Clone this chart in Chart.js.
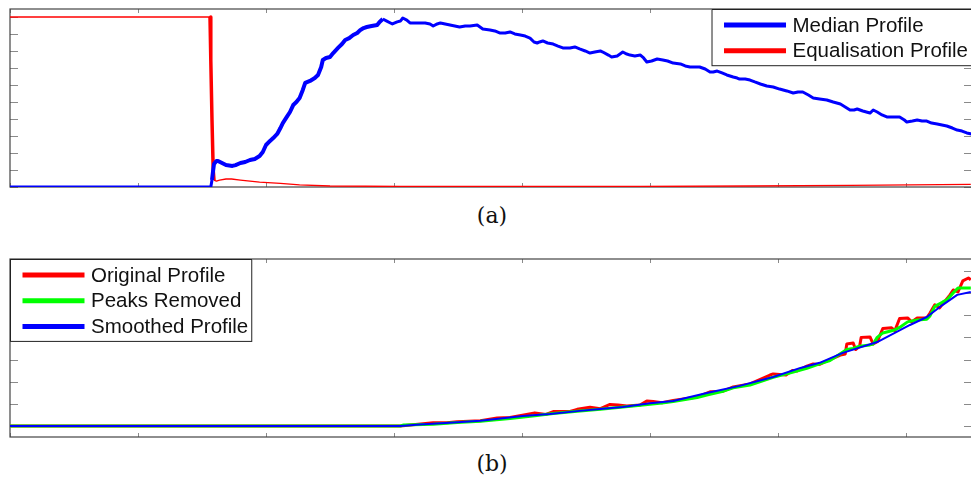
<!DOCTYPE html>
<html lang="en">
<head>
    <meta charset="UTF-8" />
    <title>Profiles</title>
    <script src="https://cdn.jsdelivr.net/npm/chart.js"></script>
    <style>
        body {
            margin: 0;
            width: 971px;
            height: 478px;
            overflow: hidden;
            background: #fff;
            position: relative;
        }
        .panel {
            position: absolute;
            left: 0;
            width: 973px;
            height: 195px;
        }
        #panelA { top: 0; }
        #panelB { top: 250px; }
        .caption {
            position: absolute;
            left: 442px;
            width: 100px;
            text-align: center;
            font-family: 'DejaVu Serif', serif;
            font-size: 22px;
            line-height: 26px;
            color: #111;
        }
    </style>
</head>
<body>
    <div class="panel" id="panelA"><canvas id="chartA"></canvas></div>
    <div class="caption" style="top: 203px;">(a)</div>

    <div class="panel" id="panelB"><canvas id="chartB"></canvas></div>
    <div class="caption" style="top: 451px;">(b)</div>

    <script>
        // (a) median intensity profile and the equalisation profile derived from it
        const medianX = [0, 251, 252.5, 254, 255, 258, 260, 265, 270, 278, 282, 288, 294, 300, 306, 312, 316, 320, 325, 329,
            334, 338, 341, 346, 350, 354, 358, 362, 366, 369, 375, 381, 385, 389, 391, 395, 400, 404, 410, 415,
            419, 424, 429, 434, 438, 442, 446, 452, 459, 462, 466, 471, 478, 484, 488, 491, 496, 500, 506, 512,
            519, 525, 529, 534, 538, 544, 550, 556, 562, 569, 575, 584, 591, 600, 606, 612, 619, 625, 631, 638,
            644, 650, 655, 659, 662, 666, 672, 679, 685, 691, 700, 706, 712, 719, 725, 731, 738, 741, 748, 752,
            759, 766, 771, 775, 781, 788, 792, 796, 802, 809, 816, 822, 829, 838, 844, 850, 862, 869, 875, 879,
            884, 890, 896, 904, 909, 912, 919, 925, 931, 938, 946, 954, 962, 971, 979, 985, 991, 998, 1004, 1012,
            1021, 1029, 1038, 1044, 1050, 1055, 1059, 1066, 1075, 1079, 1084, 1090, 1096, 1104, 1112, 1118, 1121, 1128, 1134, 1140,
            1146, 1152, 1159, 1165, 1171, 1178, 1184, 1190, 1196, 1202];
        const medianY = [0, 0, 0.041, 0.1, 0.135, 0.153, 0.153, 0.141, 0.129, 0.124, 0.129, 0.141, 0.147, 0.159, 0.165, 0.182, 0.206, 0.247, 0.271, 0.288,
            0.312, 0.347, 0.376, 0.412, 0.441, 0.482, 0.5, 0.524, 0.571, 0.612, 0.624, 0.641, 0.659, 0.706, 0.747, 0.759, 0.765, 0.788, 0.818, 0.841,
            0.865, 0.876, 0.894, 0.906, 0.924, 0.935, 0.941, 0.947, 0.953, 0.971, 0.988, 0.976, 0.959, 0.971, 0.976, 0.994, 0.982, 0.965, 0.965, 0.965,
            0.965, 0.959, 0.947, 0.959, 0.965, 0.959, 0.953, 0.947, 0.941, 0.947, 0.947, 0.953, 0.929, 0.924, 0.918, 0.906, 0.906, 0.912, 0.9, 0.894,
            0.888, 0.876, 0.853, 0.847, 0.853, 0.859, 0.847, 0.841, 0.829, 0.818, 0.818, 0.824, 0.812, 0.8, 0.788, 0.794, 0.8, 0.794, 0.776, 0.765,
            0.771, 0.794, 0.782, 0.776, 0.771, 0.776, 0.759, 0.735, 0.741, 0.753, 0.747, 0.741, 0.729, 0.724, 0.712, 0.706, 0.706, 0.694, 0.676, 0.676,
            0.682, 0.671, 0.659, 0.647, 0.641, 0.635, 0.635, 0.629, 0.618, 0.606, 0.594, 0.588, 0.576, 0.565, 0.553, 0.559, 0.559, 0.541, 0.524, 0.518,
            0.512, 0.5, 0.488, 0.471, 0.453, 0.453, 0.459, 0.447, 0.435, 0.453, 0.441, 0.424, 0.412, 0.412, 0.412, 0.394, 0.382, 0.388, 0.394, 0.388,
            0.388, 0.376, 0.371, 0.365, 0.359, 0.347, 0.335, 0.329, 0.318, 0.312];

        const equalX = [0, 250, 251, 252.5, 254, 255, 258, 262, 270, 277, 288, 312, 338, 362, 400, 488, 788, 925, 1050, 1201];
        const equalY = [1, 1, 0.747, 0.394, 0.1, 0.041, 0.035, 0.041, 0.047, 0.047, 0.041, 0.029, 0.021, 0.012, 0.006, 0.003, 0.003, 0.006, 0.01, 0.015];

        // (b) original profile, profile with peaks removed, and smoothed result
        const originalX = [0, 488, 529, 546, 559, 588, 609, 625, 656, 670, 679, 700, 709, 725, 738, 750, 760, 771, 788, 796,
            804, 815, 829, 859, 875, 890, 904, 925, 950, 954, 970, 978, 984, 996, 1004, 1012, 1025, 1038, 1044, 1046,
            1054, 1057, 1062, 1064, 1075, 1079, 1084, 1091, 1102, 1106, 1112, 1122, 1127, 1134, 1146, 1150, 1156, 1162, 1175, 1179,
            1185, 1191, 1198, 1201];
        const originalY = [0, 0, 0.14, 0.14, 0.19, 0.23, 0.36, 0.38, 0.59, 0.52, 0.65, 0.65, 0.75, 0.84, 0.78, 0.97, 0.95, 0.9, 0.95, 1.13,
            1.1, 1.05, 1.15, 1.31, 1.54, 1.55, 1.76, 1.9, 2.3, 2.35, 2.3, 2.5, 2.48, 2.7, 2.8, 2.78, 3.0, 3.2, 3.25, 3.7,
            3.75, 3.45, 3.6, 4.0, 4.02, 3.7, 3.8, 4.4, 4.43, 4.3, 4.85, 4.88, 4.7, 4.88, 4.88, 5.1, 5.47, 5.33, 5.92, 6.14,
            6.05, 6.55, 6.68, 6.6];

        const peaksX = [0, 488, 492, 529, 559, 588, 625, 656, 679, 709, 738, 760, 788, 815, 829, 859, 871, 890, 904, 925,
            954, 978, 996, 1012, 1025, 1046, 1054, 1062, 1075, 1079, 1084, 1091, 1102, 1106, 1112, 1122, 1134, 1146, 1150, 1156,
            1166, 1171, 1179, 1185, 1201];
        const peaksY = [0, 0, 0.04, 0.08, 0.15, 0.21, 0.33, 0.46, 0.56, 0.66, 0.75, 0.83, 0.93, 1.03, 1.1, 1.28, 1.4, 1.55, 1.72, 1.85,
            2.2, 2.42, 2.6, 2.8, 2.95, 3.45, 3.5, 3.6, 3.66, 3.7, 4.0, 4.2, 4.3, 4.34, 4.45, 4.7, 4.79, 4.82, 4.97, 5.4,
            5.6, 5.69, 6.01, 6.23, 6.23];

        const smoothX = [0, 488, 512, 550, 588, 641, 675, 712, 738, 766, 800, 829, 871, 912, 954, 988, 1012, 1041, 1084, 1125,
            1146, 1166, 1184, 1201];
        const smoothY = [0, 0, 0.07, 0.14, 0.23, 0.45, 0.54, 0.68, 0.77, 0.86, 1.02, 1.13, 1.49, 1.81, 2.21, 2.62, 2.85, 3.3, 3.79, 4.56,
            4.92, 5.47, 5.92, 6.05];

        const xMax = 1202.5;
        const xStep = 160;

        function points(xs, ys) {
            return xs.map((x, i) => ({ x: x, y: ys[i] }));
        }

        // box around the axes with MATLAB style inward ticks on all four sides
        const axesFrame = {
            id: 'axesFrame',
            beforeDatasetsDraw(chart) {
                const { ctx, chartArea: a, scales } = chart;
                ctx.save();
                ctx.strokeStyle = '#8a8a8a';
                ctx.lineWidth = 1;
                ctx.beginPath();
                scales.x.ticks.forEach(t => {
                    const px = Math.round(scales.x.getPixelForValue(t.value)) + 0.5;
                    ctx.moveTo(px, a.top); ctx.lineTo(px, a.top + 4);
                    ctx.moveTo(px, a.bottom); ctx.lineTo(px, a.bottom - 4);
                });
                scales.y.ticks.forEach(t => {
                    const py = Math.round(scales.y.getPixelForValue(t.value)) + 0.5;
                    ctx.moveTo(a.left, py); ctx.lineTo(a.left + 8, py);
                    ctx.moveTo(a.right, py); ctx.lineTo(a.right - 8, py);
                });
                ctx.stroke();
                ctx.strokeStyle = '#444';
                ctx.lineWidth = 1.2;
                ctx.strokeRect(a.left, a.top, a.right - a.left, a.bottom - a.top);
                ctx.restore();
            }
        };

        // legend drawn as a boxed key inside the axes
        const boxLegend = {
            id: 'boxLegend',
            afterDatasetsDraw(chart, args, opts) {
                const { ctx, chartArea: a } = chart;
                const items = chart.data.datasets;
                ctx.save();
                ctx.font = opts.font;
                const textW = Math.max(...items.map(d => ctx.measureText(d.label).width));
                const w = opts.padLeft + opts.lineLength + opts.gap + textW + opts.padRight;
                const h = opts.firstRow + (items.length - 1) * opts.rowHeight + opts.lastPad;
                const left = opts.align === 'right' ? a.right - w : a.left;
                const top = a.top;
                ctx.fillStyle = '#fff';
                ctx.fillRect(left, top, w, h);
                ctx.strokeStyle = '#222';
                ctx.lineWidth = 1;
                ctx.strokeRect(left + 0.5, top + 0.5, w - 1, h - 1);
                items.forEach((d, i) => {
                    const y = top + opts.firstRow + i * opts.rowHeight;
                    ctx.strokeStyle = d.borderColor;
                    ctx.lineWidth = 5;
                    ctx.beginPath();
                    ctx.moveTo(left + opts.padLeft, y);
                    ctx.lineTo(left + opts.padLeft + opts.lineLength, y);
                    ctx.stroke();
                    ctx.fillStyle = '#111';
                    ctx.textBaseline = 'middle';
                    ctx.fillText(d.label, left + opts.padLeft + opts.lineLength + opts.gap, y + 1);
                });
                ctx.restore();
            }
        };

        function baseOptions(yMin, yMax, yStep, align) {
            return {
                responsive: true,
                maintainAspectRatio: false,
                animation: false,
                layout: { padding: { left: 10, top: 9, right: 1, bottom: 8 } },
                elements: { point: { radius: 0 }, line: { tension: 0, borderJoinStyle: 'round' } },
                scales: {
                    x: {
                        type: 'linear', min: 0, max: xMax,
                        ticks: { display: false, stepSize: xStep, includeBounds: false },
                        grid: { display: false, drawTicks: false },
                        border: { display: false }
                    },
                    y: {
                        type: 'linear', min: yMin, max: yMax,
                        ticks: { display: false, stepSize: yStep, includeBounds: false },
                        grid: { display: false, drawTicks: false },
                        border: { display: false }
                    }
                },
                plugins: {
                    legend: { display: false },
                    tooltip: { enabled: false },
                    boxLegend: {
                        align: align,
                        font: '20.5px "Liberation Sans", Arial, sans-serif',
                        padLeft: 12.5, lineLength: 62, gap: 6.5, padRight: 4,
                        firstRow: 16, rowHeight: 25.7, lastPad: 15.5
                    }
                }
            };
        }

        new Chart(document.getElementById('chartA'), {
            type: 'line',
            data: {
                datasets: [{
                    label: 'Median Profile',
                    data: points(medianX, medianY),
                    borderColor: '#0000ff',
                    borderWidth: 3,
                    segment: {
                        // the steep climb renders heavier than the slow decline
                        borderWidth: c => (c.p0.parsed.x >= 252 && c.p1.parsed.x <= 470) ? 4 : 3
                    }
                }, {
                    label: 'Equalisation Profile',
                    data: points(equalX, equalY),
                    borderColor: '#ff0000',
                    borderWidth: 1.3,
                    segment: {
                        // the sharp drop reads heavier than the flat parts
                        borderWidth: c => (c.p0.parsed.x >= 250 && c.p1.parsed.x <= 255) ? 3.5 : 1.3
                    }
                }]
            },
            options: baseOptions(0, 1.047, 0.1, 'right'),
            plugins: [axesFrame, boxLegend]
        });

        new Chart(document.getElementById('chartB'), {
            type: 'line',
            data: {
                datasets: [{
                    label: 'Original Profile',
                    data: points(originalX, originalY),
                    borderColor: '#ff0000',
                    borderWidth: 3,
                    order: 3
                }, {
                    label: 'Peaks Removed',
                    data: points(peaksX, peaksY),
                    borderColor: '#00ff00',
                    borderWidth: 3,
                    order: 2
                }, {
                    label: 'Smoothed Profile',
                    data: points(smoothX, smoothY),
                    borderColor: '#0000ff',
                    borderWidth: 2,
                    order: 1
                }]
            },
            options: baseOptions(-0.5, 7.54, 1, 'left'),
            plugins: [axesFrame, boxLegend]
        });
    </script>
</body>
</html>
